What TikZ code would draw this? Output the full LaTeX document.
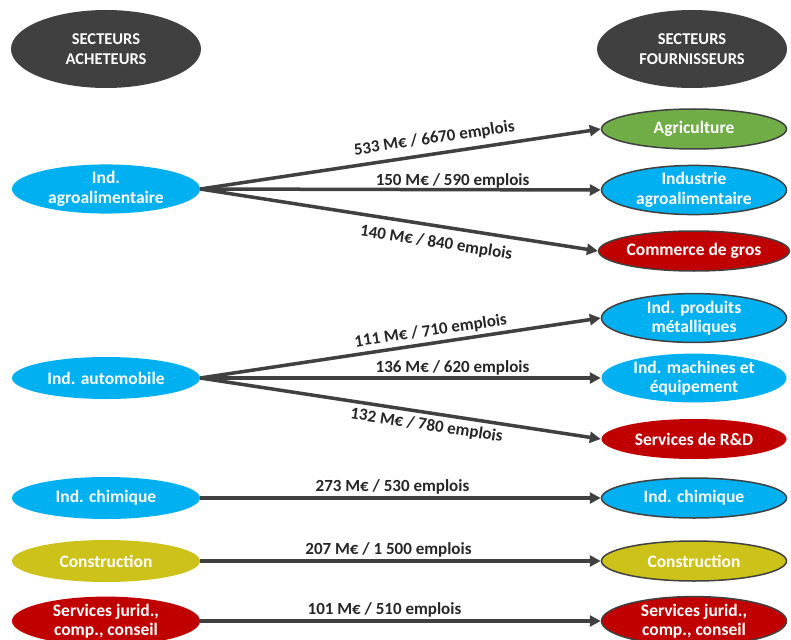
\documentclass[tikz,border=0pt]{standalone}
\usepackage{fontspec}
\setmainfont{Carlito}
\usetikzlibrary{shapes.geometric,arrows.meta}
\definecolor{dk}{HTML}{404040}
\definecolor{bl}{HTML}{00B0F0}
\definecolor{gr}{HTML}{70AD47}
\definecolor{rd}{HTML}{C00000}
\definecolor{ye}{HTML}{CCC21A}
\tikzset{
  sect/.style={ellipse, inner sep=0pt, minimum width=188pt, minimum height=42pt, align=center,
    text=white, font=\bfseries\fontsize{17.5}{19.5}\selectfont},
  head/.style={sect, fill=dk, minimum height=78pt, minimum width=190pt, font=\bfseries\fontsize{16.5}{20}\selectfont},
  rsect/.style={sect, minimum width=185pt, minimum height=40pt, draw=dk, line width=1.5pt},
  arr/.style={draw=dk, line width=3.5pt, -{Triangle[length=11pt,width=11pt]}},
  lab/.style={font=\bfseries\fontsize{17}{19}\selectfont, text=black!85, inner sep=1pt, sloped}
}
\begin{document}
\begin{tikzpicture}[x=1pt,y=-1pt]
\useasboundingbox (0,0) rectangle (791,639);
\node[head] (hl) at (106,49) {SECTEURS\\ACHETEURS};
\node[head] (hr) at (692,49) {SECTEURS\\FOURNISSEURS};
% left
\node[sect, fill=bl] (la) at (106,189) {Ind.\\agroalimentaire};
\node[sect, fill=bl] (lb) at (106,378) {Ind. automobile};
\node[sect, fill=bl] (lc) at (106,498) {Ind. chimique};
\node[sect, fill=ye] (ld) at (106,561) {Construction};
\node[sect, fill=rd] (le) at (106,621) {Services jurid.,\\comp., conseil};
% right
\node[rsect, fill=gr] (r1) at (694,129) {Agriculture};
\node[rsect, fill=bl] (r2) at (694,190) {Industrie\\agroalimentaire};
\node[rsect, fill=rd] (r3) at (694,251) {Commerce de gros};
\node[rsect, fill=bl] (r4) at (694,318) {Ind. produits\\métalliques};
\node[rsect, fill=bl, draw=none] (r5) at (694,378) {Ind. machines et\\équipement};
\node[rsect, fill=rd, draw=none] (r6) at (694,439) {Services de R\&D};
\node[rsect, fill=bl] (r7) at (694,498) {Ind. chimique};
\node[rsect, fill=ye] (r8) at (694,561) {Construction};
\node[rsect, fill=rd] (r9) at (694,621) {Services jurid.,\\comp., conseil};
% arrows
\draw[arr] (la.east) -- node[lab, above=5pt, pos=0.59] {533 M€ / 6670 emplois} (r1.west);
\draw[arr] (la.east) -- node[lab, above=-1pt, pos=0.63] {150 M€ / 590 emplois} (r2.west);
\draw[arr] (la.east) -- node[lab, below=7pt, pos=0.6] {140 M€ / 840 emplois} (r3.west);
\draw[arr] (lb.east) -- node[lab, above=2pt, pos=0.58] {111 M€ / 710 emplois} (r4.west);
\draw[arr] (lb.east) -- node[lab, above=0pt, pos=0.63] {136 M€ / 620 emplois} (r5.west);
\draw[arr] (lb.east) -- node[lab, below=3pt, pos=0.57] {132 M€ / 780 emplois} (r6.west);
\draw[arr] (lc.east) -- node[lab, above=1pt, pos=0.48] {273 M€ / 530 emplois} (r7.west);
\draw[arr] (ld.east) -- node[lab, above=1pt, pos=0.47] {207 M€ / 1 500 emplois} (r8.west);
\draw[arr] (le.east) -- node[lab, above=1pt, pos=0.46] {101 M€ / 510 emplois} (r9.west);
\end{tikzpicture}
\end{document}
